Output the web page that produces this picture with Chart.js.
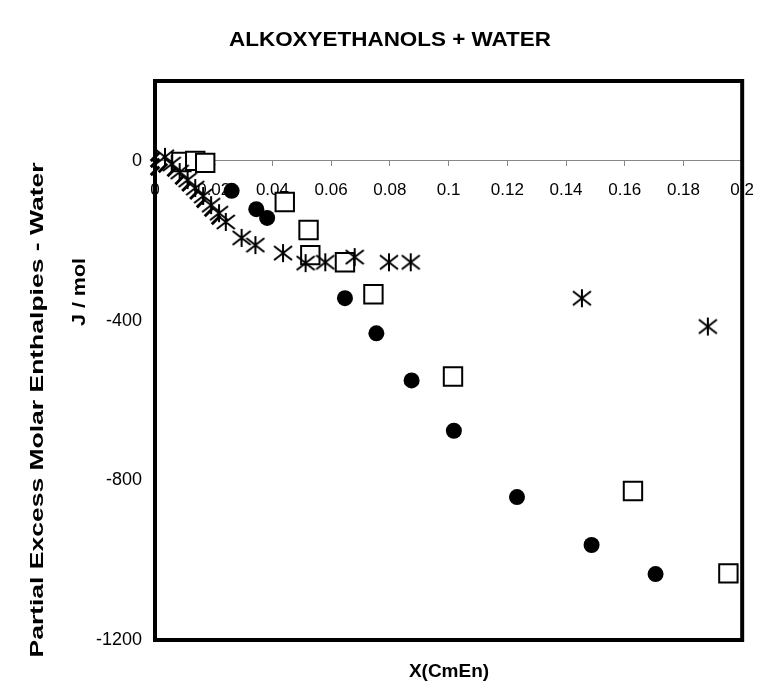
<!DOCTYPE html>
<html>
<head>
<meta charset="utf-8">
<script src="https://cdn.jsdelivr.net/npm/chart.js@4.4.0/dist/chart.umd.min.js"></script>
<style>
  html, body { margin: 0; padding: 0; background: #fff; }
</style>
</head>
<body>
<canvas id="chart" width="768" height="691"></canvas>
<script>
// Axis settings
const xTicks = [0, 0.02, 0.04, 0.06, 0.08, 0.1, 0.12, 0.14, 0.16, 0.18, 0.2];
const yTicks = [-1200, -800, -400, 0];

// Filled circles
const circleX = [0.0178, 0.0261, 0.0345, 0.0382, 0.0647, 0.0754, 0.0874, 0.1018, 0.1233, 0.1487, 0.1705];
const circleY = [-10, -75, -121, -143, -344, -432, -550, -676, -842, -962, -1035];

// Open squares
const squareX = [0.009, 0.0137, 0.0171, 0.0442, 0.0523, 0.0529, 0.0647, 0.0744, 0.1015, 0.1628, 0.1953];
const squareY = [-3, 0, -5, -103, -173, -236, -254, -334, -540, -827, -1033];

// Asterisks
const starX = [0.0034, 0.0057, 0.0084, 0.0111, 0.0137, 0.0164, 0.0191, 0.0218, 0.0241, 0.0295, 0.0342,
               0.0436, 0.0513, 0.058, 0.068, 0.0797, 0.0871, 0.1454, 0.1883];
const starY = [10, -8, -28, -48, -68, -88, -111, -131, -153, -193, -211,
               -231, -256, -254, -241, -254, -254, -344, -415];

// Dash markers (dense low-concentration series)
const dashX = [0, 0, 0, 0.0027, 0.0057, 0.0084, 0.0107, 0.0134, 0.0157, 0.0184, 0.0208];
const dashY = [10, -5, -25, -18, -28, -48, -65, -85, -106, -128, -148];

const toPoints = (xs, ys) => xs.map((x, i) => ({ x: x, y: ys[i] }));

// asterisk marker: vertical bar plus an X
function makeStar(size) {
    const c = document.createElement('canvas');
    c.width = size;
    c.height = size;
    const g = c.getContext('2d');
    g.strokeStyle = '#000';
    g.lineWidth = 2;
    g.beginPath();
    g.moveTo(size / 2, 1);
    g.lineTo(size / 2, size - 1);
    g.moveTo(1, 3);
    g.lineTo(size - 1, size - 3);
    g.moveTo(1, size - 3);
    g.lineTo(size - 1, 3);
    g.stroke();
    return c;
}

const FONT = "'Liberation Sans', Arial, sans-serif";

// text stretched along its baseline to a given length
function stretchedText(ctx, text, x, y, len, angle) {
    ctx.save();
    ctx.translate(x, y);
    ctx.rotate(angle);
    const w = ctx.measureText(text).width;
    ctx.scale(len / w, 1);
    ctx.fillText(text, 0, 0);
    ctx.restore();
}

const framePlugin = {
    id: 'frame',
    afterDraw(chart) {
        const { ctx, chartArea: a } = chart;
        ctx.save();
        ctx.strokeStyle = '#000';
        ctx.lineWidth = 4;
        ctx.strokeRect(a.left, a.top, a.right - a.left, a.bottom - a.top);

        ctx.fillStyle = '#000';
        ctx.textAlign = 'center';
        ctx.textBaseline = 'middle';

        // title
        ctx.font = 'bold 20px ' + FONT;
        stretchedText(ctx, 'ALKOXYETHANOLS + WATER', 390, 40, 322, 0);

        // x title
        ctx.font = 'bold 19px ' + FONT;
        ctx.fillText('X(CmEn)', 449, 672);

        // y titles
        ctx.font = 'bold 19px ' + FONT;
        stretchedText(ctx, 'Partial Excess Molar Enthalpies - Water', 38, 410, 495, -Math.PI / 2);
        stretchedText(ctx, 'J / mol', 80, 292, 68, -Math.PI / 2);
        ctx.restore();
    }
};

new Chart(document.getElementById('chart'), {
    type: 'scatter',
    data: {
        datasets: [
            {
                label: 'dash',
                data: toPoints(dashX, dashY),
                pointStyle: 'line',
                rotation: -45,
                pointRadius: 6,
                borderColor: '#000',
                borderWidth: 3,
                clip: false
            },
            {
                label: 'star',
                data: toPoints(starX, starY),
                pointStyle: makeStar(20),
                pointRadius: 10,
                clip: false
            },
            {
                label: 'square',
                data: toPoints(squareX, squareY),
                pointStyle: 'rect',
                pointRadius: 13,
                backgroundColor: '#fff',
                borderColor: '#000',
                borderWidth: 2,
                clip: false
            },
            {
                label: 'circle',
                data: toPoints(circleX, circleY),
                pointStyle: 'circle',
                pointRadius: 8,
                backgroundColor: '#000',
                borderColor: '#000',
                borderWidth: 0,
                clip: false
            }
        ]
    },
    options: {
        responsive: false,
        animation: false,
        layout: { padding: { left: 0, top: 81, right: 16, bottom: 51 } },
        plugins: {
            legend: { display: false },
            tooltip: { enabled: false }
        },
        scales: {
            x: {
                type: 'linear',
                position: { y: 0 },
                min: 0,
                max: 0.2,
                afterBuildTicks: (s) => { s.ticks = xTicks.map(v => ({ value: v })); },
                ticks: {
                    color: '#000',
                    font: { family: FONT, size: 17 },
                    padding: 14,
                    maxRotation: 0,
                    autoSkip: false,
                    callback: (v) => String(+v.toFixed(2))
                },
                grid: { drawOnChartArea: false, drawTicks: true, tickLength: 5, color: '#888' },
                border: { display: true, color: '#888', width: 1 }
            },
            y: {
                type: 'linear',
                position: 'left',
                min: -1200,
                max: 200,
                afterBuildTicks: (s) => { s.ticks = yTicks.map(v => ({ value: v })); },
                afterFit: (s) => { s.width = 155; },
                ticks: {
                    color: '#000',
                    font: { family: FONT, size: 18 },
                    padding: 13,
                    callback: (v) => String(v)
                },
                grid: { display: false, drawTicks: false },
                border: { display: false }
            }
        }
    },
    plugins: [framePlugin]
});
</script>
</body>
</html>
